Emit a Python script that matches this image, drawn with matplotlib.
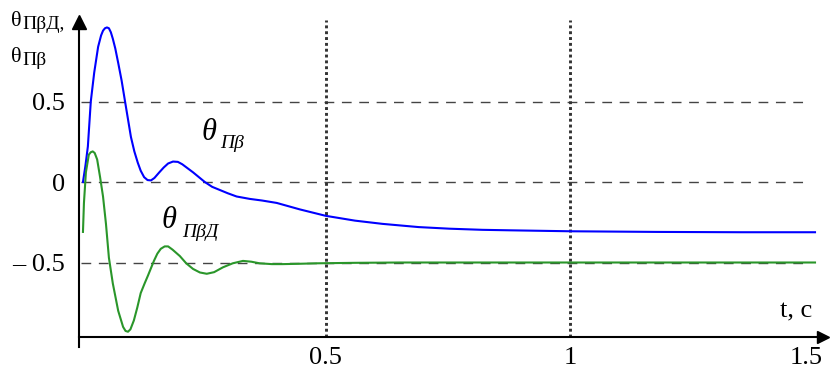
import matplotlib
matplotlib.use("Agg")
import matplotlib.pyplot as plt
import matplotlib.transforms as mtransforms

plt.rcParams['font.family'] = ['Liberation Serif', 'DejaVu Serif']

# ---------------- data ----------------
t_blue = [0.004, 0.009, 0.014, 0.020, 0.027, 0.035, 0.041, 0.045, 0.049, 0.053,
          0.057, 0.061, 0.065, 0.070, 0.076, 0.083, 0.090, 0.096, 0.102, 0.109,
          0.116, 0.122, 0.129, 0.136, 0.143, 0.150, 0.160, 0.169, 0.178, 0.188,
          0.198, 0.207, 0.218, 0.229, 0.241, 0.253, 0.268, 0.284, 0.300, 0.318,
          0.345, 0.370, 0.400, 0.447, 0.500, 0.560, 0.616, 0.690, 0.753, 0.820,
          0.876, 1.000, 1.176, 1.350, 1.500]
theta_pb = [0.00, 0.10, 0.22, 0.50, 0.68, 0.84, 0.91, 0.94, 0.955, 0.96,
            0.955, 0.93, 0.89, 0.83, 0.74, 0.63, 0.50, 0.39, 0.28, 0.19,
            0.12, 0.07, 0.03, 0.012, 0.01, 0.025, 0.06, 0.09, 0.115, 0.127,
            0.125, 0.11, 0.085, 0.06, 0.03, 0.00, -0.03, -0.05, -0.07, -0.09,
            -0.105, -0.115, -0.13, -0.17, -0.21, -0.24, -0.26, -0.28, -0.29, -0.297,
            -0.30, -0.306, -0.31, -0.312, -0.312]

t_green = [0.004, 0.006, 0.010, 0.016, 0.020, 0.024, 0.028, 0.033, 0.039, 0.045,
           0.051, 0.057, 0.065, 0.076, 0.082, 0.086, 0.091, 0.096, 0.101, 0.108,
           0.115, 0.122, 0.130, 0.137, 0.149, 0.156, 0.163, 0.171, 0.178, 0.187,
           0.202, 0.215, 0.229, 0.243, 0.257, 0.272, 0.290, 0.310, 0.331, 0.348,
           0.365, 0.390, 0.412, 0.445, 0.482, 0.560, 0.651, 1.000, 1.500]
theta_pbd = [-0.31, -0.13, 0.06, 0.17, 0.185, 0.19, 0.18, 0.14, 0.03, -0.09,
             -0.26, -0.47, -0.63, -0.80, -0.86, -0.90, -0.925, -0.93, -0.915, -0.86,
             -0.78, -0.69, -0.63, -0.58, -0.49, -0.445, -0.415, -0.40, -0.40, -0.42,
             -0.46, -0.505, -0.54, -0.562, -0.57, -0.56, -0.53, -0.505, -0.49, -0.495,
             -0.505, -0.51, -0.51, -0.508, -0.505, -0.502, -0.50, -0.50, -0.50]

x_ticks = [0.5, 1.0, 1.5]
x_tick_labels = ["0.5", "1", "1.5"]
y_ticks = [0.5, 0.0, -0.5]
y_tick_labels = ["0.5", "0", "– 0.5"]

# ---------------- figure ----------------
W, H = 830, 376
fig = plt.figure(figsize=(W / 100, H / 100), dpi=100)

def fx(px):
    return px / W

def fy(py):
    return 1 - py / H

ax_left, ax_right, ax_bottom, ax_top = 79, 829, 337, 15
ax = fig.add_axes([fx(ax_left), fy(ax_bottom), (ax_right - ax_left) / W, (ax_bottom - ax_top) / H])
ax.set_xlim(-0.0041, 1.5286)
ax.set_ylim(-0.9627, 1.0373)
for s in ax.spines.values():
    s.set_visible(False)

# dashed horizontal reference lines
ax.hlines(y_ticks, 0, 1.48, colors='#444444', linewidth=1.0, linestyles=(0, (7, 5.5)), zorder=1)
# dotted vertical lines
ax.vlines(x_ticks[:2], ax.get_ylim()[0], 1.006, colors='#333333', linewidth=2.1,
          linestyles=(0, (1, 1)), zorder=1)

# curves
ax.plot(t_blue, theta_pb, color='#0000ff', linewidth=1.5, zorder=3)
ax.plot(t_green, theta_pbd, color='#2a962a', linewidth=1.5, zorder=3)

# axes lines with arrowheads
ax.plot([0, 0], [-10 / 322, 1 - 12 / 322], transform=ax.transAxes, color='black',
        linewidth=1.5, clip_on=False, zorder=4)
ax.plot([0], [1 - 6.5 / 322], transform=ax.transAxes, marker='^', markersize=10,
        color='black', clip_on=False, zorder=4)
ax.plot([0, 1 - 11 / 750], [0, 0], transform=ax.transAxes, color='black',
        linewidth=1.5, clip_on=False, zorder=4)
ax.plot([1 - 6 / 750], [0], transform=ax.transAxes, marker='>', markersize=9,
        color='black', clip_on=False, zorder=4)

# ticks
ax.set_xticks(x_ticks)
ax.set_xticklabels(x_tick_labels, fontsize=19)
ax.set_yticks(y_ticks)
ax.set_yticklabels(y_tick_labels, fontsize=19)
ax.tick_params(axis='both', length=0)
ax.tick_params(axis='x', pad=7)
ax.tick_params(axis='y', pad=10)
lab = ax.get_xticklabels()[-1]
lab.set_transform(lab.get_transform() + mtransforms.ScaledTranslation(-9 / 100, 0, fig.dpi_scale_trans))

# y-axis label
fig.text(fx(11), fy(26), "θ", fontsize=16, va='baseline')
fig.text(fx(22), fy(29), "ПβД,", fontsize=14, va='baseline')
fig.text(fx(11), fy(62), "θ", fontsize=16, va='baseline')
fig.text(fx(22), fy(65), "Пβ", fontsize=14, va='baseline')

# curve labels
fig.text(fx(202), fy(140), "θ", fontsize=22, style='italic', va='baseline')
fig.text(fx(220), fy(148), "Пβ", fontsize=14, style='italic', va='baseline')
fig.text(fx(162), fy(228), "θ", fontsize=22, style='italic', va='baseline')
fig.text(fx(182), fy(237), "ПβД", fontsize=14, style='italic', va='baseline')

# x-axis label
fig.text(fx(780), fy(317), "t, c", fontsize=19, va='baseline')

fig.savefig("out.png", dpi=100)
